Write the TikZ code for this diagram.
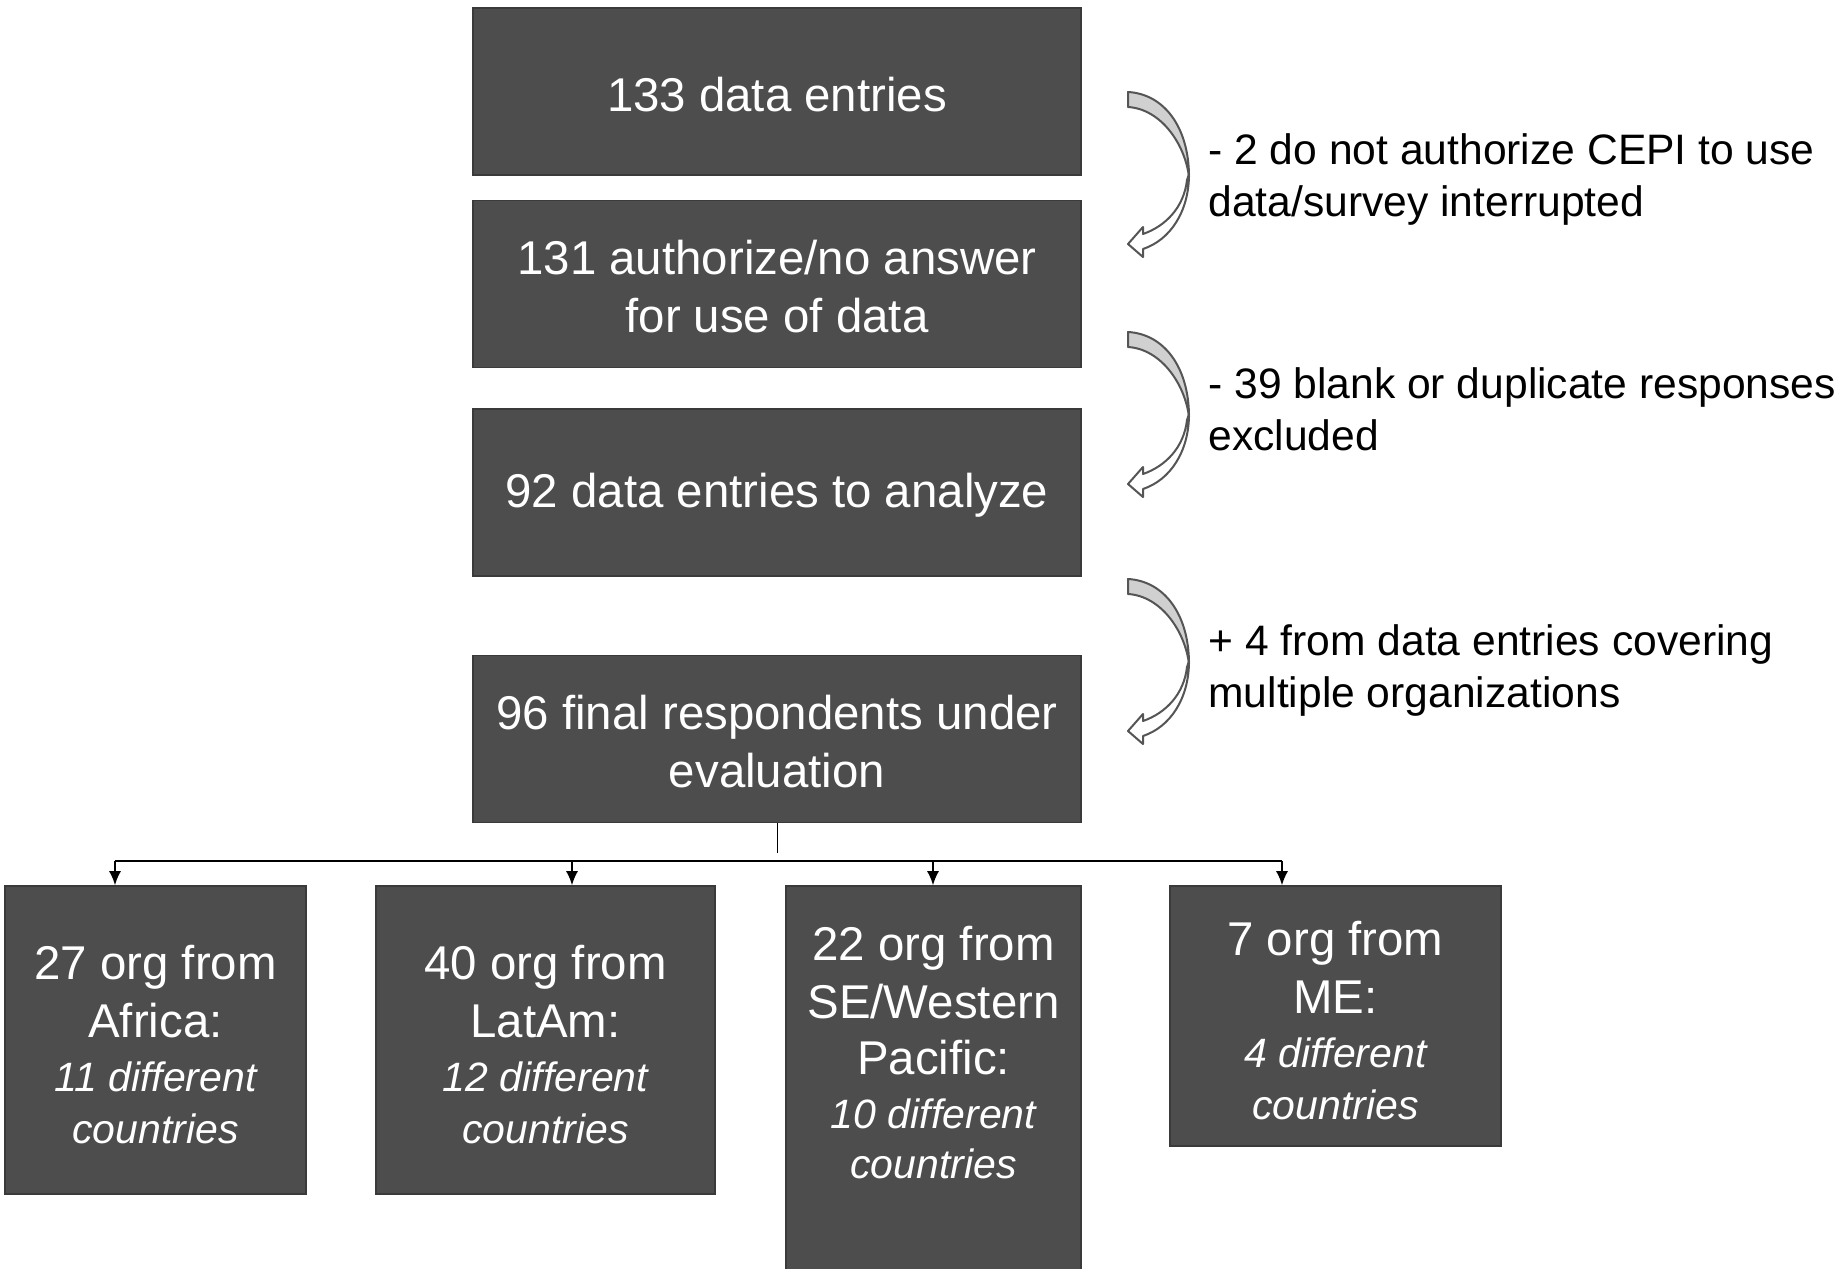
\documentclass[tikz,border=0pt]{standalone}
\usepackage{fontspec}
\setmainfont{Liberation Sans}
\usetikzlibrary{arrows.meta}
\definecolor{boxfill}{RGB}{77,77,77}
\definecolor{boxedge}{RGB}{58,58,58}
\definecolor{turnfill}{RGB}{208,208,208}
\definecolor{turnedge}{RGB}{85,85,85}
\newcommand{\bigtxt}{\fontsize{23.7}{29}\selectfont}
\newcommand{\notetxt}{\fontsize{21.3}{26}\selectfont}
\newcommand{\cnttxt}{\fontsize{20.5}{26}\selectfont\itshape}
\newcommand{\lowmain}{\rule{0pt}{19.8pt}}
\newcommand{\lowreg}{\rule{0pt}{21.4pt}}
\begin{document}
\begin{tikzpicture}[x=0.5pt, y=-0.5pt,
  box/.style={draw=boxedge,line width=0.8pt,fill=boxfill,text=white,align=center,inner sep=0pt,font=\bigtxt},
  mainbox/.style={box,minimum width=304pt,minimum height=83.5pt},
  note/.style={anchor=west,align=left,inner sep=0pt,font=\notetxt},
  drop/.style={-{Latex[length=7pt,width=6pt]},line width=0.8pt},
  turnarrow/.pic={
    \draw[turnedge,line width=1pt,fill=white,line join=round]
      (61,82) .. controls (61,120) and (42,148) .. (15,157) -- (15,165) -- (0,152) -- (15,135) -- (15,142)
      .. controls (38,134) and (56,115) .. (59,88) -- cycle;
    \draw[turnedge,line width=1pt,fill=turnfill,line join=round]
      (0,0) .. controls (36,2) and (61,35) .. (61,85) .. controls (57,52) and (33,17) .. (0,15) -- cycle;
  }]
\useasboundingbox (0,0) rectangle (1844,1269);
% main chain
\node[mainbox] (entries) at (777,91.5) {\lowmain 133 data entries};
\node[mainbox] (authorized) at (777,284) {\lowmain 131 authorize/no answer\\for use of data};
\node[mainbox] (analyze) at (777,492.5) {\lowmain 92 data entries to analyze};
\node[mainbox] (final) at (777,739) {\lowmain 96 final respondents under\\evaluation};
% exclusions
\pic (turn1) at (1128,92) {turnarrow};
\pic (turn2) at (1128,332) {turnarrow};
\pic (turn3) at (1128,579) {turnarrow};
\node[note] (excl1) at (1208,179.5) {- 2 do not authorize CEPI to use\\data/survey interrupted};
\node[note] (excl2) at (1208,409.5) {- 39 blank or duplicate responses\\excluded};
\node[note] (added) at (1208,670.5) {+ 4 from data entries covering\\multiple organizations};
% regions
\node[box,minimum width=150.5pt,minimum height=154pt] (africa) at (155.5,1040)
  {\lowreg 27 org from\\Africa:\\[-2pt]{\cnttxt 11 different}\\[-3pt]{\cnttxt countries}};
\node[box,minimum width=169.5pt,minimum height=154pt] (latam) at (545.5,1040)
  {\lowreg 40 org from\\LatAm:\\[-2pt]{\cnttxt 12 different}\\[-3pt]{\cnttxt countries}};
\node[box,minimum width=147.5pt,minimum height=193pt] (pacific) at (933.5,1079)
  {22 org from\\SE/Western\\[-1pt]Pacific:\\[-2pt]{\cnttxt 10 different}\\[-4pt]{\cnttxt countries\rule[-26.5pt]{0pt}{0pt}}};
\node[box,minimum width=165.5pt,minimum height=130pt] (me) at (1335.5,1016)
  {\lowreg 7 org from\\ME:\\[-2pt]{\cnttxt 4 different}\\[-3pt]{\cnttxt countries}};
% split
\coordinate (stem) at (777,853);
\coordinate (barW) at (115,861);
\coordinate (d2) at (572,861);
\coordinate (d3) at (933,861);
\coordinate (barE) at (1282,861);
\draw[line width=0.5pt] (final.south) -- (stem);
\draw[line width=0.8pt] (barW) -- (barE);
\draw[drop] (barW) -- (barW |- africa.north);
\draw[drop] (d2) -- (d2 |- latam.north);
\draw[drop] (d3) -- (d3 |- pacific.north);
\draw[drop] (barE) -- (barE |- me.north);
\end{tikzpicture}
\end{document}
